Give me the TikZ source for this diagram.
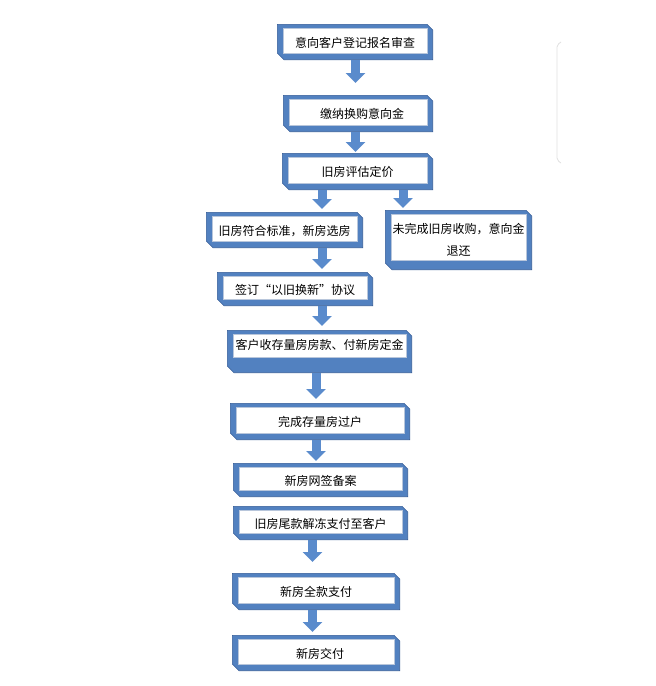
\documentclass[tikz,border=0pt]{standalone}
\usepackage{fontspec}
\setmainfont{Noto Sans CJK SC}
\usetikzlibrary{arrows.meta}
\definecolor{boxblue}{RGB}{82,129,192}
\definecolor{boxedge}{RGB}{52,92,152}
\definecolor{arrowblue}{RGB}{90,139,204}
\begin{document}
\begin{tikzpicture}[
  x=1pt, y=-1pt,
  font=\fontsize{12pt}{22pt}\selectfont,
  frmbot/.initial=7pt,
  frm/.style={rectangle, inner sep=0pt, outer sep=0pt, align=center,
    text height=12.5pt, text depth=2pt,
    path picture={
      \fill[boxblue, draw=boxedge, line width=.6pt]
        ([shift={(.3pt,-.3pt)}]path picture bounding box.north west)
        -- ([shift={(-6pt,-.3pt)}]path picture bounding box.north east)
        -- ([shift={(-.3pt,-6pt)}]path picture bounding box.north east)
        -- ([shift={(-.3pt,.3pt)}]path picture bounding box.south east)
        -- ([shift={(7pt,.3pt)}]path picture bounding box.south west)
        -- ([shift={(.3pt,7pt)}]path picture bounding box.south west) -- cycle;
      \filldraw[fill=white, draw=boxedge!35, line width=.4pt]
        ([shift={(6pt,-4pt)}]path picture bounding box.north west)
        rectangle ([shift={(-6pt,\pgfkeysvalueof{/tikz/frmbot})}]path picture bounding box.south east);
    }},
  blk/.style={draw=arrowblue, line width=9pt, -{Triangle[width=19pt,length=10pt]}}]
\useasboundingbox (0,0) rectangle (656,686);
\node[frm, minimum width=156pt, minimum height=36pt] (b1) at (355,42) {意向客户登记报名审查};
\node[frm, minimum width=150pt, minimum height=37pt] (b2) at (358,113.5) {\hspace{8pt}缴纳换购意向金};
\node[frm, minimum width=151pt, minimum height=37pt] (b3) at (357.5,171.5) {旧房评估定价};
\node[frm, minimum width=157pt, minimum height=36pt] (b4) at (284.5,230) {旧房符合标准，新房选房};
\node[frm, minimum width=147pt, minimum height=60pt, frmbot=10pt, text height=, text depth=] (b5) at (458.5,240) {未完成旧房收购，意向金\\退还};
\node[frm, minimum width=156pt, minimum height=34pt] (b6) at (295,289) {签订“以旧换新”协议};
\node[frm, minimum width=185pt, minimum height=43pt, frmbot=16pt, text depth=16pt] (b7) at (319.5,351.5) {客户收存量房房款、付新房定金};
\node[frm, minimum width=180pt, minimum height=37pt] (b8) at (320,421.5) {完成存量房过户};
\node[frm, minimum width=175pt, minimum height=34pt] (b9) at (320.5,480) {新房网签备案};
\node[frm, minimum width=175pt, minimum height=34pt] (b10) at (320.5,523) {旧房尾款解冻支付至客户};
\node[frm, minimum width=168pt, minimum height=37pt] (b11) at (316,591.5) {新房全款支付};
\node[frm, minimum width=168pt, minimum height=36pt] (b12) at (316,653) {\hspace{8pt}新房交付};
\coordinate (la) at (355.5,0);
\coordinate (lb) at (322,0);
\coordinate (lc) at (403,0);
\coordinate (ld) at (316,0);
\coordinate (le) at (312.5,0);
\draw[blk, shorten >=12pt] (b1.south -| la) -- (b2.north -| la);
\draw[blk, shorten >=1pt] (b2.south -| la) -- (b3.north -| la);
\draw[blk, shorten >=3pt] (b3.south -| lb) -- (b4.north -| lb);
\draw[blk, shorten >=2pt] (b3.south -| lc) -- (b5.north -| lc);
\draw[blk, shorten >=3pt] (b4.south -| lb) -- (b6.north -| lb);
\draw[blk, shorten >=4pt] (b6.south -| lb) -- (b7.north -| lb);
\draw[blk, shorten >=4pt] (b7.south -| ld) -- (b8.north -| ld);
\draw[blk, shorten >=2pt] (b8.south -| ld) -- (b9.north -| ld);
\draw[blk, shorten >=11pt] (b10.south -| le) -- (b11.north -| le);
\draw[blk, shorten >=3pt] (b11.south -| le) -- (b12.north -| le);
\draw[gray!25, line width=.8pt, rounded corners=2pt] (561,42) -- (557,45) -- (557,160) -- (561,163);
\end{tikzpicture}
\end{document}
